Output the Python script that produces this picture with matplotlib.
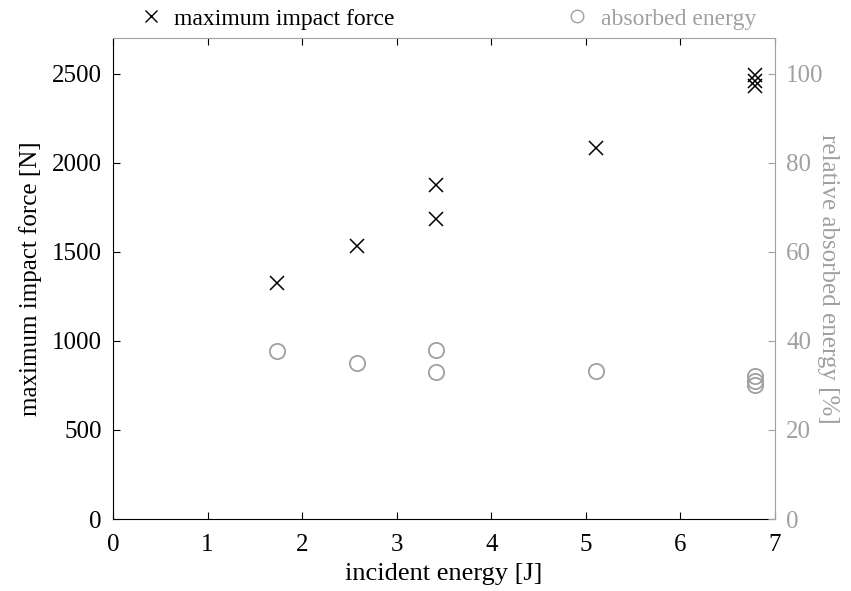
import matplotlib
matplotlib.use("Agg")
import matplotlib.pyplot as plt
from matplotlib.lines import Line2D

plt.rcParams.update({
    "font.family": "Liberation Serif",
    "font.size": 18,
    "xtick.direction": "in",
    "ytick.direction": "in",
})

GREY = "#a0a0a0"

# incident energy [J]
energy = [1.73, 2.58, 3.42, 3.42, 5.11, 6.79, 6.79, 6.79]
# maximum impact force [N]
force = [1325, 1531, 1682, 1875, 2085, 2490, 2460, 2430]
# relative absorbed energy [%]
absorbed = [37.8, 35.1, 32.9, 38.0, 33.2, 32.2, 31.1, 30.2]

fig = plt.figure(figsize=(8.51, 5.91), dpi=100)
ax = fig.add_axes([0.1328, 0.1218, 0.7779, 0.8139])
ax2 = ax.twinx()

ax.plot(energy, force, "x", color="black", markersize=10, markeredgewidth=1.1)
ax2.plot(energy, absorbed, "o", markerfacecolor="none", markeredgecolor=GREY,
         markersize=11, markeredgewidth=1.3)

ax.set_xlim(0, 7)
ax.set_ylim(0, 2700)
ax2.set_ylim(0, 108)
ax.set_xticks(range(8))
ax.set_yticks([0, 500, 1000, 1500, 2000, 2500])
ax2.set_yticks([0, 20, 40, 60, 80, 100])

ax.set_xlabel("incident energy [J]", fontsize=19, labelpad=5)
ax.set_ylabel("maximum impact force [N]", fontsize=18, labelpad=7)
ax2.set_ylabel("relative absorbed energy [%]", color=GREY, fontsize=18,
               rotation=270, labelpad=11)

ax.tick_params(axis="x", top=True, length=5, pad=11, labelsize=18)
ax.tick_params(axis="y", length=5, pad=8, labelsize=18)
ax2.tick_params(axis="y", colors=GREY, length=5, pad=8, labelsize=18)

ax2.spines["right"].set_color(GREY)
ax2.spines["top"].set_color(GREY)
ax2.spines["left"].set_visible(False)
ax2.spines["bottom"].set_visible(False)
ax.spines["right"].set_visible(False)
ax.spines["top"].set_visible(False)

h_force = Line2D([], [], linestyle="none", marker="x", color="black", markersize=8)
h_abs = Line2D([], [], linestyle="none", marker="o", markerfacecolor="none",
               markeredgecolor=GREY, markersize=9)

leg_opts = dict(loc="center left", frameon=False, handlelength=0.8,
                handletextpad=0.6, borderpad=0, borderaxespad=0, fontsize=17)
fig.legend([h_force], ["maximum impact force"],
           bbox_to_anchor=(0.166, 0.968), **leg_opts)
leg2 = fig.legend([h_abs], ["absorbed energy"],
                  bbox_to_anchor=(0.667, 0.968), **leg_opts)
leg2.get_texts()[0].set_color(GREY)

fig.savefig("out.png", dpi=100, facecolor="white")
